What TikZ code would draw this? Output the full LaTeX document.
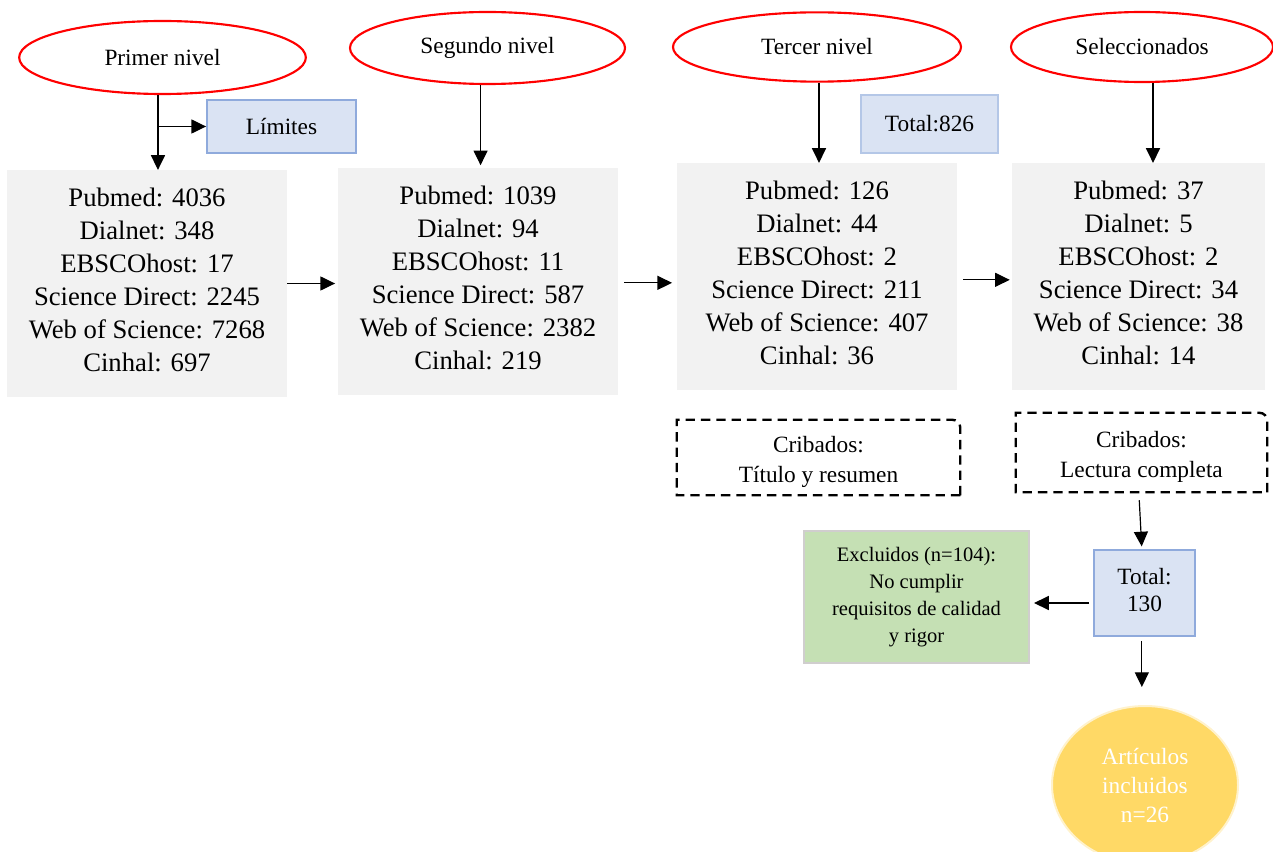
\documentclass[tikz,border=0pt]{standalone}
\usepackage{fontspec}
\setmainfont{Liberation Serif}
\usetikzlibrary{arrows.meta,shapes.geometric}
\definecolor{lvlred}{HTML}{FF0000}
\definecolor{srcgray}{HTML}{F2F2F2}
\definecolor{notebg}{HTML}{DAE3F3}
\definecolor{noteline}{HTML}{8FAADC}
\definecolor{notelight}{HTML}{B4C7E7}
\definecolor{exclbg}{HTML}{C5E0B4}
\definecolor{exclline}{HTML}{D0CECE}
\definecolor{finalbg}{HTML}{FFD966}
\definecolor{finalline}{HTML}{FFF2CC}
\tikzset{
  levelnode/.style={ellipse,draw=lvlred,line width=1.6pt,fill=white,
                    inner sep=0pt,font=\fontsize{17.5}{21}\selectfont},
  srcbox/.style={fill=srcgray,inner sep=0pt,align=center,text depth=6.2pt,
                 minimum height=170pt,font=\fontsize{20}{24.75}\selectfont},
  notebox/.style={draw=noteline,fill=notebg,line width=1.4pt,inner sep=0pt,
                  align=center,font=\fontsize{17.5}{20.25}\selectfont},
  sievebox/.style={inner sep=0pt,align=center,text height=41.6pt,
                   font=\fontsize{17.5}{22.5}\selectfont},
  sieveline/.style={line width=1.8pt,dash pattern=on 7pt off 4.5pt},
  exclbox/.style={draw=exclline,fill=exclbg,line width=1.6pt,inner sep=0pt,
                  align=center,font=\fontsize{15.4}{20.25}\selectfont},
  finalnode/.style={ellipse,draw=finalline,fill=finalbg,line width=1.5pt,
                    inner sep=0pt,text=white,align=center,
                    font=\fontsize{17.5}{21.75}\selectfont},
  flowarr/.style={-{Triangle[length=11pt,width=10.5pt]},line width=0.9pt}
}
\begin{document}
\begin{tikzpicture}[x=0.75pt,y=-0.75pt]
  \useasboundingbox (0,0) rectangle (1273,852);
  % search levels
  \node[levelnode,minimum width=215pt,minimum height=54.75pt] (lvl1) at (162.5,57.5) {Primer nivel};
  \node[levelnode,minimum width=206.25pt,minimum height=54pt] (lvl2) at (487.5,48) {Segundo nivel};
  \node[levelnode,minimum width=216pt,minimum height=52pt] (lvl3) at (817,47) {Tercer nivel};
  \node[levelnode,minimum width=196.5pt,minimum height=52.5pt] (lvl4) at (1142,47) {Seleccionados};

  \node[notebox,minimum width=111.75pt,minimum height=39.75pt] (lim) at (281.5,126.5) {Límites};
  \node[notebox,draw=notelight,minimum width=102.75pt,minimum height=43.5pt] (tot1) at (929.5,124) {Total:826};

  % databases
  \node[srcbox,minimum width=210pt] (src1) at (147,283.5)
    {Pubmed: 4036\\Dialnet: 348\\EBSCOhost: 17\\Science Direct: 2245\\Web of Science: 7268\\Cinhal: 697};
  \node[srcbox,minimum width=210pt] (src2) at (478,281.5)
    {Pubmed: 1039\\Dialnet: 94\\EBSCOhost: 11\\Science Direct: 587\\Web of Science: 2382\\Cinhal: 219};
  \node[srcbox,minimum width=210pt] (src3) at (817,276.5)
    {Pubmed: 126\\Dialnet: 44\\EBSCOhost: 2\\Science Direct: 211\\Web of Science: 407\\Cinhal: 36};
  \node[srcbox,minimum width=189.75pt] (src4) at (1138.5,276.5)
    {Pubmed: 37\\Dialnet: 5\\EBSCOhost: 2\\Science Direct: 34\\Web of Science: 38\\Cinhal: 14};

  % screening
  \node[sievebox,minimum width=212.25pt,minimum height=56.25pt] (sieve1) at (818.5,457.5) {Cribados:\\Título y resumen};
  \node[sievebox,minimum width=188.25pt,minimum height=59.25pt] (sieve2) at (1141.5,452.5) {Cribados:\\Lectura completa};
  \foreach \s in {sieve1,sieve2}
    \draw[sieveline] (\s.south east) -- ([yshift=-6pt]\s.north east)
      arc[start angle=0,end angle=90,radius=6pt] -- (\s.north west) -- (\s.south west) -- cycle;

  \node[notebox,text depth=4.5pt,minimum width=75.75pt,minimum height=64.5pt] (tot2) at (1144.5,593) {Total:\\130};
  \node[exclbox,minimum width=168.75pt,minimum height=99pt] (excl) at (916.5,597)
    {Excluidos (n=104):\\No cumplir\\requisitos de calidad\\y rigor};
  \node[finalnode,minimum width=139.5pt,minimum height=118.5pt] (art) at (1145,785) {Artículos\\incluidos\\n=26};

  \draw[flowarr] ([xshift=-3.4pt]lvl1.south) -- ([xshift=-3.4pt]lvl1.south |- src1.north);
  \draw[flowarr] ([xshift=-3.4pt]lvl1.south |- lim.west) -- (lim.west);
  \draw[flowarr] ([xshift=-5.2pt]lvl2.south) -- ([xshift=-5.2pt,yshift=2pt]lvl2.south |- src2.north);
  \draw[flowarr] ([xshift=1.5pt]lvl3.south) -- ([xshift=1.5pt]lvl3.south |- src3.north);
  \draw[flowarr] ([xshift=8.25pt]lvl4.south) -- ([xshift=8.25pt]lvl4.south |- src4.north);

  \draw[flowarr,shorten >=2pt] (src1.east) -- (src1.east -| src2.west);
  \draw[flowarr,shorten <=4.5pt,shorten >=3.5pt] ([yshift=-1pt]src2.east) -- ([yshift=-1pt]src2.east -| src3.west);
  \draw[flowarr,shorten <=4.5pt,shorten >=1.5pt] ([yshift=-2.5pt]src3.east) -- ([yshift=-2.5pt]src3.east -| src4.west);

  \draw[flowarr,shorten <=6pt,shorten >=2pt] ([xshift=-2pt]sieve2.south) -- ([xshift=-2pt]tot2.north);
  \draw[flowarr,shorten <=3pt,shorten >=3pt] ([yshift=-7.5pt]tot2.west) -- ([yshift=-7.5pt]tot2.west -| excl.east);
  \draw[flowarr,shorten <=3pt,shorten >=13.5pt] ([xshift=-2pt]tot2.south) -- ([xshift=-2pt]tot2.south |- art.north);
\end{tikzpicture}
\end{document}
